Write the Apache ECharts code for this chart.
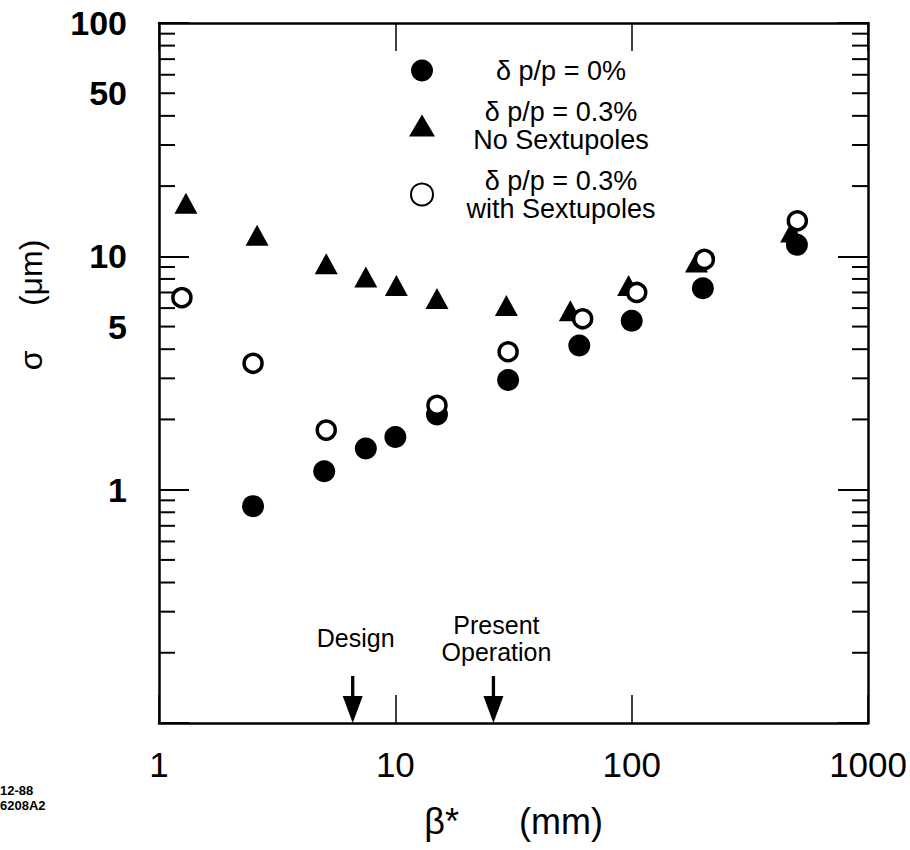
<!DOCTYPE html>
<html><head><meta charset="utf-8">
<script src="https://cdn.jsdelivr.net/npm/echarts@6/dist/echarts.min.js"></script>
<style>html,body{margin:0;padding:0;background:#fff}#c{width:910px;height:850px}</style>
</head><body><div id="c"></div>
<script>
// ---- data ----
const seriesNames = ['δ p/p = 0%', 'δ p/p = 0.3%\nNo Sextupoles', 'δ p/p = 0.3%\nwith Sextupoles'];
const noSpreadPoints = [[2.5,0.85],[5,1.2],[7.5,1.5],[10,1.68],[15,2.1],[30,2.95],[60,4.15],[100,5.3],[200,7.3],[500,11.2]];
const noSextPoints = [[1.3,16.9],[2.6,12.3],[5.1,9.3],[7.5,8.15],[10.1,7.5],[15,6.6],[29.5,6.15],[55,5.85],[97,7.5],[188,9.45],[475,12.7]];
const withSextPoints = [[1.25,6.65],[2.5,3.48],[5.1,1.8],[15,2.3],[30,3.9],[62,5.4],[105,7.0],[203,9.7],[502,14.2]];
const yTickLabels = [1, 5, 10, 50, 100];
const yMinorTicks = [0.2,0.3,0.4,0.5,0.6,0.7,0.8,0.9,2,3,4,5,6,7,8,9,20,30,40,50,60,70,80,90];
const annotations = [{beta: 6.6, text: 'Design'}, {beta: 26, text: 'Present\nOperation'}];
const xRange = [1, 1000];
const yRange = [0.1, 100];
const yTitle = 'σ     (μm)';
const xTitle = 'β*      (mm)';
const footnote = '12-88\n6208A2';

const FF = '"Liberation Sans", Arial, Helvetica, sans-serif';
const chart = echarts.init(document.getElementById('c'), null, {renderer: 'svg'});

function xAxisCfg(pos, withLabels) {
  return {
    type: 'log', logBase: 10, min: xRange[0], max: xRange[1], position: pos,
    axisLine: {show: true, lineStyle: {color: '#000', width: 2.5}},
    axisTick: {show: true, inside: true, length: 28, lineStyle: {color: '#000', width: 1.5}},
    axisLabel: {show: withLabels, margin: 24, fontSize: 35, color: '#000', fontFamily: FF,
                formatter: v => String(v)},
    splitLine: {show: false}, minorTick: {show: false},
    name: withLabels ? xTitle : '', nameLocation: 'middle', nameGap: 80,
    nameTextStyle: {fontSize: 36, color: '#000', fontFamily: FF}
  };
}
function yAxisCfg(pos, withName) {
  return {
    type: 'log', logBase: 10, min: yRange[0], max: yRange[1], position: pos,
    axisLine: {show: true, lineStyle: {color: '#000', width: 2.5}},
    axisTick: {show: true, inside: true, length: 30, lineStyle: {color: '#000', width: 2}},
    axisLabel: {show: false},
    splitLine: {show: false}, minorTick: {show: false},
    name: withName ? yTitle : '', nameLocation: 'middle', nameGap: 112,
    nameTextStyle: {fontSize: 32, color: '#000', fontFamily: FF, padding: [0, 0, 0, 136]}
  };
}

const option = {
  animation: false,
  backgroundColor: '#fff',
  title: {text: footnote, left: 0, top: 783, padding: 0,
    textStyle: {fontSize: 13, fontWeight: 'bold', color: '#000', fontFamily: FF, lineHeight: 15}},
  grid: {left: 159, top: 23, right: 38, bottom: 127, containLabel: false},
  legend: {
    orient: 'vertical', left: 409, top: 57, padding: 0,
    itemWidth: 26, itemHeight: 22, itemGap: 14,
    data: [seriesNames[0], seriesNames[1], seriesNames[2]],
    selectedMode: false,
    formatter: function (name) {
      const lines = name.split('\n');
      if (lines.length === 1) return '{a1|' + lines[0] + '}';
      return lines.map(l => '{a|' + l + '}').join('\n');
    },
    textStyle: {
      color: '#000', fontFamily: FF, fontSize: 27,
      rich: {
        a1: {fontSize: 27, fontFamily: FF, color: '#000', lineHeight: 30, width: 242, align: 'center'},
        a: {fontSize: 27, fontFamily: FF, color: '#000', lineHeight: 28, width: 242, align: 'center'}
      }
    }
  },
  xAxis: [xAxisCfg('bottom', true), xAxisCfg('top', false)],
  yAxis: [yAxisCfg('left', true), yAxisCfg('right', false)],
  series: [
    {
      type: 'custom', name: 'minorTicks', silent: true, clip: false, z: 1,
      data: yMinorTicks.map(v => [xRange[0], v]),
      renderItem: function (params, api) {
        const cs = params.coordSys;
        const y = api.coord([xRange[0], api.value(1)])[1];
        const st = {stroke: '#000', lineWidth: 2};
        return {type: 'group', children: [
          {type: 'line', shape: {x1: cs.x, y1: y, x2: cs.x + 16, y2: y}, style: st},
          {type: 'line', shape: {x1: cs.x + cs.width - 16, y1: y, x2: cs.x + cs.width, y2: y}, style: st}
        ]};
      }
    },
    {
      type: 'custom', name: 'yLabels', silent: true, clip: false, z: 1,
      data: yTickLabels.map(v => [xRange[0], v]),
      renderItem: function (params, api) {
        const cs = params.coordSys;
        const v = api.value(1);
        const y = api.coord([xRange[0], v])[1];
        return {type: 'text', x: cs.x - 32, y: y,
          style: {text: String(v), fontSize: 34, fontWeight: 'bold', fontFamily: FF, fill: '#000',
                  align: 'right', verticalAlign: 'middle'}};
      }
    },
    {
      type: 'custom', name: 'annotations', silent: true, clip: false, z: 1,
      data: annotations.map(a => [a.beta, yRange[0]]),
      renderItem: function (params, api) {
        const cs = params.coordSys;
        const x = api.coord([api.value(0), yRange[0]])[0];
        const b = cs.y + cs.height;
        return {type: 'group', children: [
          {type: 'line', shape: {x1: x, y1: b - 47, x2: x, y2: b - 24}, style: {stroke: '#000', lineWidth: 3.3}},
          {type: 'polygon', shape: {points: [[x - 10, b - 27], [x + 10, b - 27], [x, b]]}, style: {fill: '#000'}},
          {type: 'text', x: x + 3, y: b - 85,
            style: {text: annotations[params.dataIndex].text, fontSize: 25, lineHeight: 27, fontFamily: FF,
                    fill: '#000', align: 'center', verticalAlign: 'middle'}}
        ]};
      }
    },
    {
      type: 'scatter', name: seriesNames[1], data: noSextPoints,
      symbol: 'triangle', symbolSize: [23, 21], itemStyle: {color: '#000', opacity: 1}
    },
    {
      type: 'scatter', name: seriesNames[0], data: noSpreadPoints,
      symbol: 'circle', symbolSize: 22, itemStyle: {color: '#000', opacity: 1}
    },
    {
      type: 'scatter', name: seriesNames[2], data: withSextPoints,
      symbol: 'circle', symbolSize: 18, itemStyle: {color: '#fff', borderColor: '#000', borderWidth: 3.5, opacity: 1}
    }
  ]
};
chart.setOption(option);
</script>
</body></html>
